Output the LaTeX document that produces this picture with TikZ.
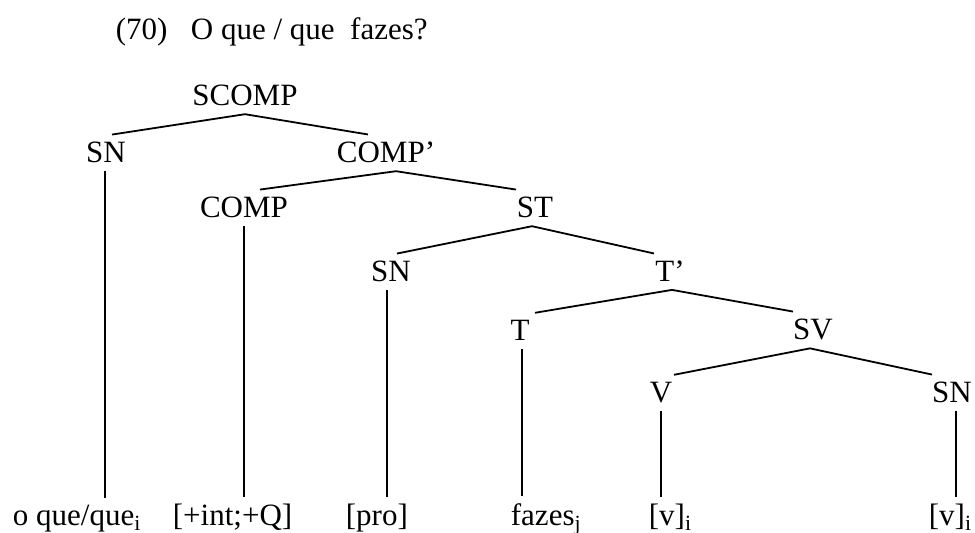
\documentclass[tikz,border=0pt]{standalone}
\usepackage{fontspec}
\setmainfont{Liberation Serif}
\usepackage{tikz}

\begin{document}
\begin{tikzpicture}[x=0.5pt,y=-0.5pt,line width=0.9pt,
    every node/.style={font=\fontsize{15.5pt}{18pt}\selectfont},
    cat/.style={anchor=base,inner xsep=0pt,inner ysep=3.5pt},
    leaf/.style={anchor=base west,inner xsep=0pt,inner ysep=3.5pt}]
			\useasboundingbox (0,0) rectangle (975,533);
			% example heading
			\node[anchor=base west,inner sep=0pt] (num)   at (115,40) {(70)};
			\node[anchor=base west,inner sep=0pt] (sent)  at (190,40) {O que / que \ fazes?};
			% categories
			\node[cat] (scomp)  at (245,106) {SCOMP};
			\node[cat] (sn1)    at (106,163) {SN};
			\node[cat] (compbar) at (386,163) {COMP'};
			\node[cat] (comp)   at (244,218) {COMP};
			\node[cat] (st)     at (535,218) {ST};
			\node[cat] (sn2)    at (391,282) {SN};
			\node[cat] (tbar)   at (670,282) {T'};
			\node[cat] (t)      at (520,341) {T};
			\node[cat] (sv)     at (813,340) {SV};
			\node[cat] (v)      at (661,403) {V};
			\node[cat] (sn3)    at (952,403) {SN};
			% terminals
			\node[leaf] (w1) at (12,526)  {o que/que\textsubscript{i}};
			\node[leaf] (w2) at (172,526) {[+int;+Q]};
			\node[leaf] (w3) at (345,526) {[pro]};
			\node[leaf] (w4) at (510,526) {fazes\textsubscript{j}};
			\node[leaf] (w5) at (648,526) {[v]\textsubscript{i}};
			\node[leaf] (w6) at (928,526) {[v]\textsubscript{i}};
			% branches
			\draw (scomp.south) -- ([xshift=3pt]sn1.north);
			\draw (scomp.south) -- ([xshift=-9pt]compbar.north);
			\draw ([xshift=5pt]compbar.south) -- ([xshift=8pt]comp.north);
			\draw ([xshift=5pt]compbar.south) -- ([xshift=-9.5pt]st.north);
			\draw ([xshift=-1.5pt]st.south) -- ([xshift=3pt]sn2.north);
			\draw ([xshift=-1.5pt]st.south) -- ([xshift=-8pt]tbar.north);
			\draw ([xshift=1pt]tbar.south) -- ([xshift=7.5pt]t.north);
			\draw ([xshift=1pt]tbar.south) -- ([xshift=-10pt]sv.north);
			\draw ([xshift=-1.5pt]sv.south) -- ([xshift=6.5pt]v.north);
			\draw ([xshift=-1.5pt]sv.south) -- ([xshift=-10pt]sn3.north);
			% lexical lines
			\draw ([xshift=-0.5pt]sn1.south) -- ([xshift=-0.5pt]sn1.south |- w1.north);
			\draw (comp.south) -- (comp.south |- w2.north);
			\draw ([xshift=-2pt]sn2.south) -- ([xshift=-2pt]sn2.south |- w3.north);
			\draw ([xshift=1pt]t.south) -- ([xshift=1pt]t.south |- w4.north);
			\draw (v.south) -- (v.south |- w5.north);
			\draw ([xshift=2pt]sn3.south) -- ([xshift=2pt]sn3.south |- w6.north);
		\end{tikzpicture}
\end{document}
